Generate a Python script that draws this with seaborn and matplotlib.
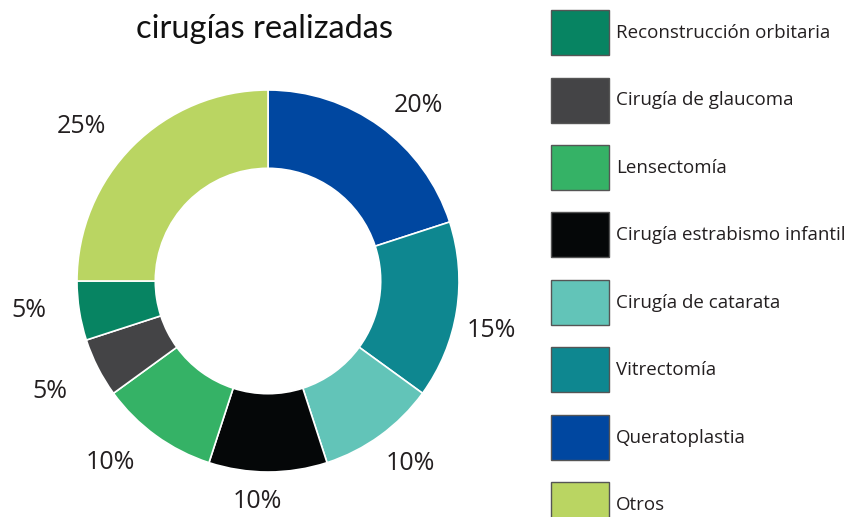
import matplotlib
matplotlib.use("Agg")
import matplotlib.pyplot as plt
import numpy as np
import seaborn as sns

# Data (clockwise from 12 o'clock)
categories = ["Queratoplastia", "Vitrectomía", "Cirugía de catarata",
              "Cirugía estrabismo infantil", "Lensectomía", "Cirugía de glaucoma",
              "Reconstrucción orbitaria", "Otros"]
values = [20, 15, 10, 10, 10, 5, 5, 25]
colors = ["#0047a0", "#0e8790", "#62c4b8", "#050708", "#35b266", "#444446",
          "#078462", "#bad562"]
legend_order = ["Reconstrucción orbitaria", "Cirugía de glaucoma", "Lensectomía",
                "Cirugía estrabismo infantil", "Cirugía de catarata", "Vitrectomía",
                "Queratoplastia", "Otros"]
title = "cirugías realizadas"

# label placement style (radius in pie radii, angular nudge in degrees)
label_radius = [1.207, 1.196, 1.21, 1.158, 1.26, 1.28, 1.26, 1.265]
label_nudge = [-4.6, -3.6, 2.0, -2.8, -5.0, 0.0, -2.0, 5.4]

sns.set_theme(style="white")
plt.rcParams["font.family"] = ["Open Sans", "DejaVu Sans"]
palette = sns.color_palette(colors)

fig = plt.figure(figsize=(8.48, 5.17), dpi=100)
W, H = 848, 517
cx, cy, R = 268, 281, 191
ax = fig.add_axes([(cx - R) / W, (H - cy - R) / H, 2 * R / W, 2 * R / H])

wedges, texts, autotexts = ax.pie(
    values, colors=palette, startangle=90, counterclock=False,
    radius=1.0, autopct=lambda p: f"{p:.0f}%", pctdistance=1.22,
    wedgeprops=dict(width=0.41, edgecolor="white", linewidth=1.2),
    textprops=dict(fontsize=18, color="#231f20"))
for w, t, r, nd in zip(wedges, autotexts, label_radius, label_nudge):
    ang = np.deg2rad((w.theta1 + w.theta2) / 2 + nd)
    t.set_position((r * np.cos(ang), r * np.sin(ang)))
    t.set_ha("center")
    t.set_va("center")
ax.set_xlim(-1, 1)
ax.set_ylim(-1, 1)
ax.set_aspect("equal")
ax.axis("off")

fig.text(264 / W, 1 - 38 / H, title, ha="center", va="baseline",
         fontsize=23.5, fontweight="normal", color="#111111",
         family=["Lato", "DejaVu Sans"])

fs = 13.5
fs_px = fs * 100 / 72
hh = (45 * 72 / 100 / fs - 0.245) / 0.65
handle_map = dict(zip(categories, wedges))
handles = [handle_map[c] for c in legend_order]
leg = fig.legend(handles, legend_order, loc="upper left",
                 bbox_to_anchor=(551 / W, 1 - 10 / H), frameon=False,
                 borderpad=0, borderaxespad=0, fontsize=fs,
                 handlelength=58 / fs_px, handleheight=hh,
                 labelspacing=22.5 / fs_px, handletextpad=7 / fs_px)
for p in leg.get_patches():
    p.set_edgecolor("#555555")
    p.set_linewidth(1.0)
for t in leg.get_texts():
    t.set_color("#231f20")

fig.savefig("out.png", dpi=100)
